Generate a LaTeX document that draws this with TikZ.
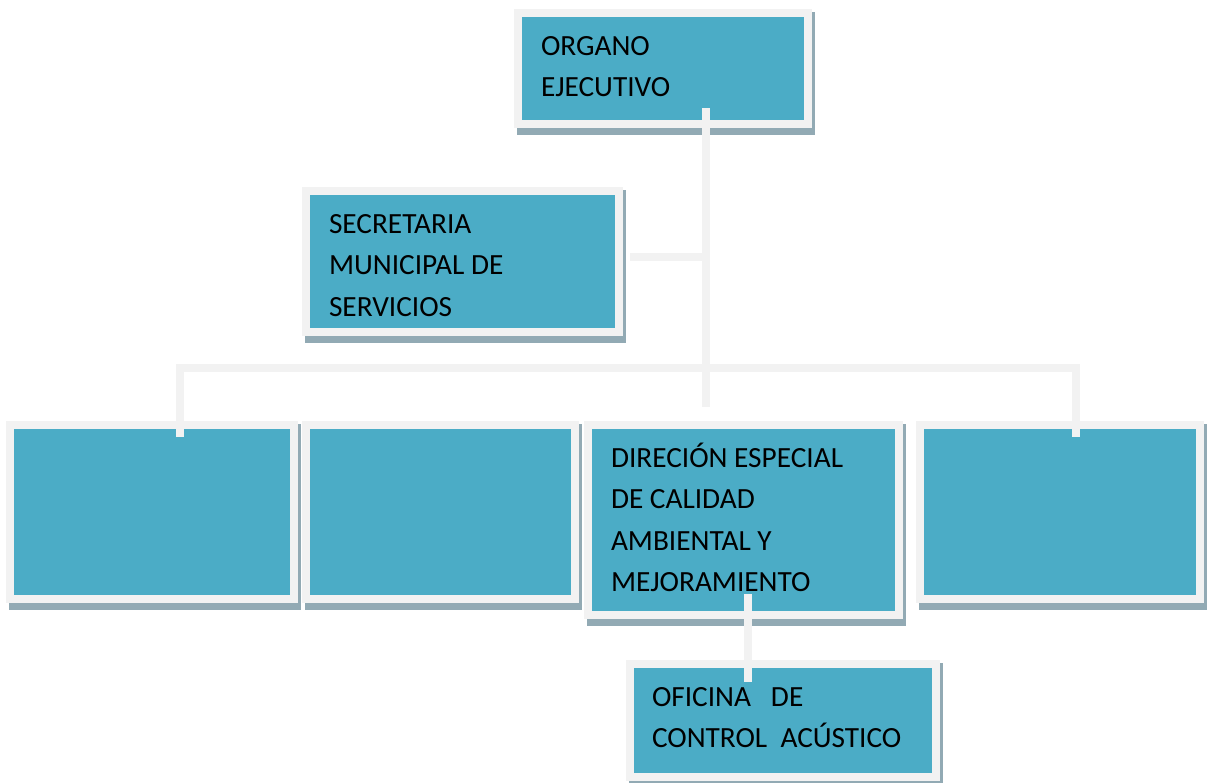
\documentclass[tikz,border=0pt]{standalone}
\usepackage{fontspec}
\setmainfont{Carlito}
\definecolor{boxblue}{RGB}{75,172,198}
\definecolor{boxgray}{RGB}{242,242,242}
\definecolor{shadowc}{RGB}{146,170,180}
\tikzset{
  orgbox/.style={draw=boxgray, line width=8pt, fill=boxblue, inner sep=0pt, outer sep=0pt, anchor=north west, rectangle},
  conn/.style={draw=boxgray, line width=8pt, line cap=butt, line join=miter},
  lbl/.style={font=\fontsize{29.3}{41.5}\selectfont, align=left, anchor=north west, inner sep=0pt, outer sep=0pt, text=black},
}
\newcommand\orgboxat[5]{%
  \fill[shadowc] (#2+3,#3+3) rectangle (#4+3,#5+7);
  \node[orgbox, minimum width={#4pt-#2pt-8pt}, minimum height={#5pt-#3pt-8pt}] (#1) at (#2+4,#3+4) {};
}
\begin{document}
\begin{tikzpicture}[x=1pt,y=-1pt]
\useasboundingbox (0,0) rectangle (1207,782);
% boxes
\orgboxat{organo}{514}{9}{812}{128}
\orgboxat{secretaria}{302}{187}{623}{336}
\orgboxat{b1}{6}{421}{298}{603}
\orgboxat{b2}{302}{421}{579}{603}
\orgboxat{dir}{584}{421}{903}{619}
\orgboxat{b4}{916}{421}{1204}{603}
\orgboxat{ofi}{626}{660}{940}{781}
% texts
\node[lbl] (organo-t) at (541,29) {\rule{0pt}{26pt}ORGANO\\EJECUTIVO};
\node[lbl] (secretaria-t) at (329,207) {\rule{0pt}{26pt}SECRETARIA\\MUNICIPAL DE\\SERVICIOS};
\node[lbl] (dir-t) at (611,441) {\rule{0pt}{26pt}DIRECIÓN ESPECIAL\\DE CALIDAD\\AMBIENTAL Y\\MEJORAMIENTO};
\node[lbl] (ofi-t) at (652,680) {\rule{0pt}{26pt}OFICINA\ \ \ DE\\CONTROL\ \ ACÚSTICO};
% connectors
\coordinate (trunkbot) at (706,407);
\coordinate (bus) at (0,368);
\draw[conn] ([xshift=43pt,yshift=16pt]organo.south) -- (trunkbot);
\draw[conn] ([xshift=11pt,yshift=4.5pt]secretaria.east) coordinate (s1) -- (s1 -| trunkbot);
\path ([xshift=28pt,yshift=-12pt]b1.north) coordinate (p1)
      ([xshift=16pt,yshift=-12pt]b4.north) coordinate (p4);
\draw[conn] (p1) -- (p1 |- bus) -- (p4 |- bus) -- (p4);
\draw[conn] ([xshift=4.5pt,yshift=21pt]dir.south) -- ([xshift=-35pt,yshift=-18pt]ofi.north);
\end{tikzpicture}
\end{document}
